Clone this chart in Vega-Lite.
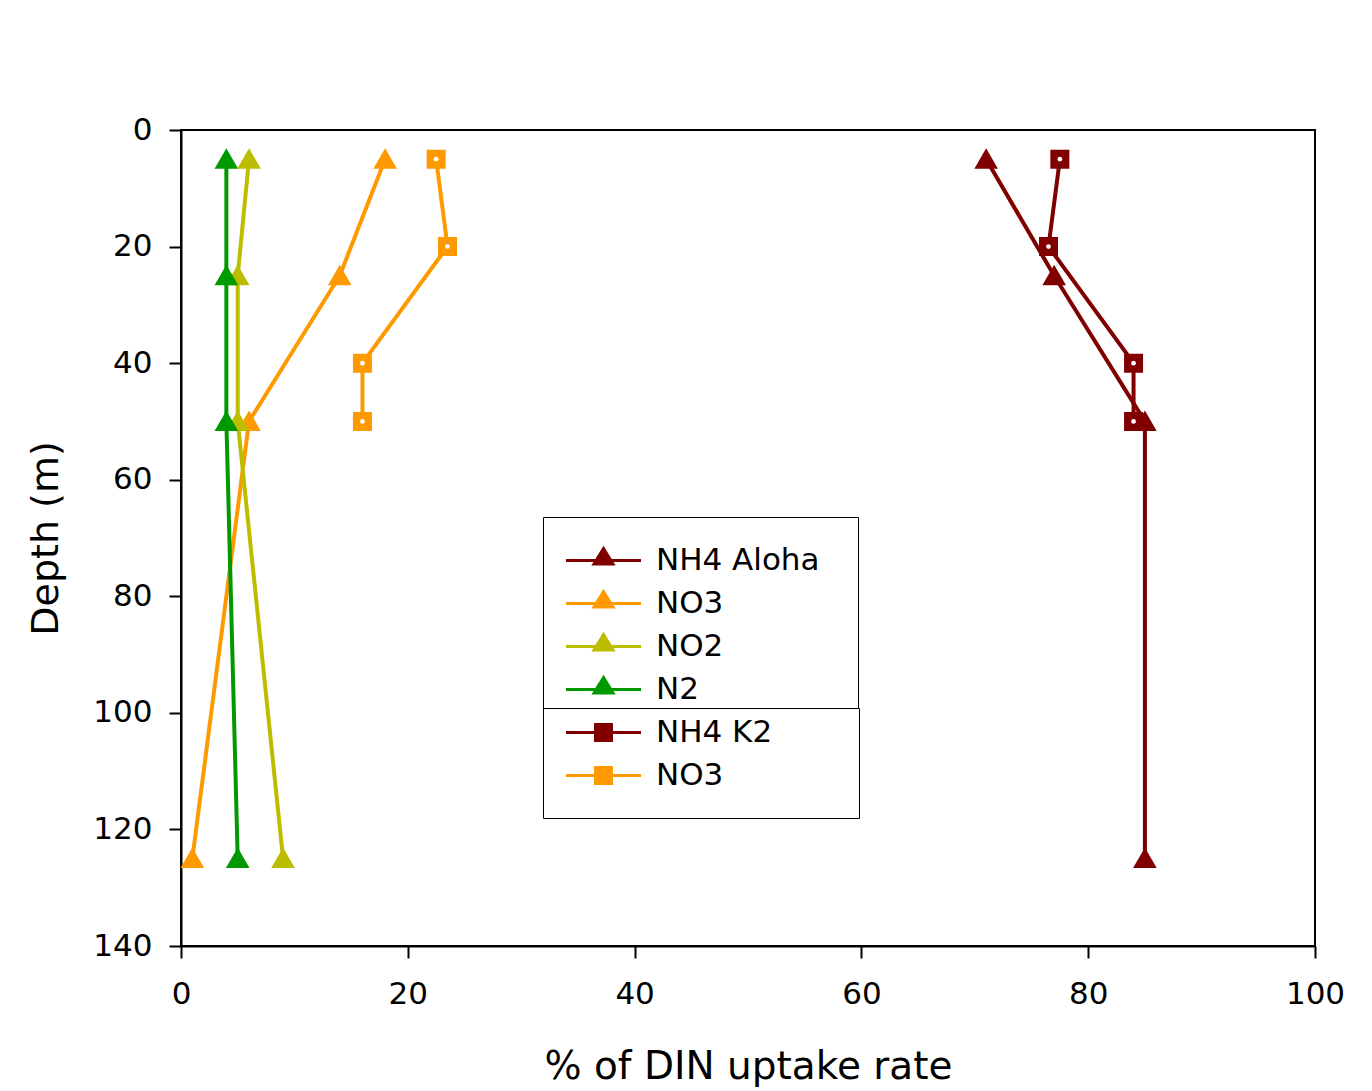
{
  "$schema": "https://vega.github.io/schema/vega-lite/v6.json",
  "width": 1134,
  "height": 816,
  "autosize": {"type": "none"},
  "padding": {"left": 181, "top": 130, "right": 57, "bottom": 145},
  "background": "white",
  "config": {
    "font": "DejaVu Sans",
    "view": {"stroke": "black", "strokeWidth": 2},
    "axis": {
      "domainColor": "black", "domainWidth": 2,
      "tickColor": "black", "tickWidth": 2, "tickSize": 12,
      "labelFontSize": 31, "labelColor": "black", "labelFlush": false,
      "titleFontSize": 38, "titleColor": "black", "titleFontWeight": "normal",
      "grid": false
    },
    "legend": {
      "labelFontSize": 31, "labelColor": "black", "labelLimit": 600,
      "strokeColor": "black", "fillColor": "white",
      "symbolSize": 900, "symbolStrokeWidth": 3,
      "labelOffset": 36,
      "titleFontSize": 10
    }
  },
  "data": {
    "values": [
      {"grp": "A", "series": "NH4 Aloha", "pct": 71, "depth": 5},
      {"grp": "A", "series": "NH4 Aloha", "pct": 77, "depth": 25},
      {"grp": "A", "series": "NH4 Aloha", "pct": 85, "depth": 50},
      {"grp": "A", "series": "NH4 Aloha", "pct": 85, "depth": 125},
      {"grp": "A", "series": "NO3", "pct": 18, "depth": 5},
      {"grp": "A", "series": "NO3", "pct": 14, "depth": 25},
      {"grp": "A", "series": "NO3", "pct": 6, "depth": 50},
      {"grp": "A", "series": "NO3", "pct": 1, "depth": 125},
      {"grp": "A", "series": "NO2", "pct": 6, "depth": 5},
      {"grp": "A", "series": "NO2", "pct": 5, "depth": 25},
      {"grp": "A", "series": "NO2", "pct": 5, "depth": 50},
      {"grp": "A", "series": "NO2", "pct": 9, "depth": 125},
      {"grp": "A", "series": "N2", "pct": 4, "depth": 5},
      {"grp": "A", "series": "N2", "pct": 4, "depth": 25},
      {"grp": "A", "series": "N2", "pct": 4, "depth": 50},
      {"grp": "A", "series": "N2", "pct": 5, "depth": 125},
      {"grp": "B", "series": "NH4 K2", "pct": 77.5, "depth": 5},
      {"grp": "B", "series": "NH4 K2", "pct": 76.5, "depth": 20},
      {"grp": "B", "series": "NH4 K2", "pct": 84, "depth": 40},
      {"grp": "B", "series": "NH4 K2", "pct": 84, "depth": 50},
      {"grp": "B", "series": "NO3", "pct": 22.5, "depth": 5},
      {"grp": "B", "series": "NO3", "pct": 23.5, "depth": 20},
      {"grp": "B", "series": "NO3", "pct": 16, "depth": 40},
      {"grp": "B", "series": "NO3", "pct": 16, "depth": 50}
    ]
  },
  "encoding": {
    "x": {
      "field": "pct", "type": "quantitative",
      "scale": {"domain": [0, 100], "nice": false, "zero": false},
      "axis": {"values": [0, 20, 40, 60, 80, 100], "title": "% of DIN uptake rate", "labelPadding": 21, "titlePadding": 38, "titleFontSize": 39}
    },
    "y": {
      "field": "depth", "type": "quantitative",
      "scale": {"domain": [0, 140], "reverse": true, "nice": false, "zero": false},
      "axis": {"values": [0, 20, 40, 60, 80, 100, 120, 140], "title": "Depth (m)", "labelPadding": 17, "titlePadding": 27}
    }
  },
  "layer": [
    {
      "transform": [{"filter": "datum.grp == 'A'"}],
      "layer": [
        {
          "mark": {"type": "line", "strokeWidth": 4},
          "encoding": {
            "stroke": {
              "field": "series", "type": "nominal",
              "scale": {"domain": ["NH4 Aloha", "NO3", "NO2", "N2"], "range": ["#800000", "#FF9900", "#BDBD00", "#009900"]},
              "legend": {
                "title": " ", "titleOrient": "top", "titlePadding": 12,
                "orient": "none", "legendX": 362, "legendY": 387,
                "padding": 5, "symbolOffset": 39, "rowPadding": 9,
                "symbolType": "M-2.5,0H2.5M0,-0.8L0.633,0.23H-0.633Z",
                "labelExpr": "datum.label + '\u00a0\u00a0\u00a0\u200a\u200b'"
              }
            },
            "order": {"field": "depth", "type": "quantitative"}
          }
        },
        {
          "mark": {"type": "point", "shape": "triangle-up", "filled": true, "size": 340, "strokeWidth": 3, "opacity": 1},
          "encoding": {
            "fill": {
              "field": "series", "type": "nominal",
              "scale": {"domain": ["NH4 Aloha", "NO3", "NO2", "N2"], "range": ["#800000", "#FF9900", "#BDBD00", "#009900"]},
              "legend": {
                "title": " ", "titleOrient": "top", "titlePadding": 12,
                "orient": "none", "legendX": 362, "legendY": 387,
                "padding": 5, "symbolOffset": 39, "rowPadding": 9,
                "symbolType": "M-2.5,0H2.5M0,-0.8L0.633,0.23H-0.633Z",
                "labelExpr": "datum.label + '\u00a0\u00a0\u00a0\u200a\u200b'"
              }
            },
            "stroke": {
              "field": "series", "type": "nominal",
              "scale": {"domain": ["NH4 Aloha", "NO3", "NO2", "N2"], "range": ["#800000", "#FF9900", "#BDBD00", "#009900"]},
              "legend": {
                "title": " ", "titleOrient": "top", "titlePadding": 12,
                "orient": "none", "legendX": 362, "legendY": 387,
                "padding": 5, "symbolOffset": 39, "rowPadding": 9,
                "symbolType": "M-2.5,0H2.5M0,-0.8L0.633,0.23H-0.633Z",
                "labelExpr": "datum.label + '\u00a0\u00a0\u00a0\u200a\u200b'"
              }
            }
          }
        }
      ]
    },
    {
      "transform": [{"filter": "datum.grp == 'B'"}],
      "layer": [
        {
          "mark": {"type": "line", "strokeWidth": 4},
          "encoding": {
            "stroke": {
              "field": "series", "type": "nominal",
              "scale": {"domain": ["NH4 K2", "NO3"], "range": ["#800000", "#FF9900"]},
              "legend": {
                "title": " ", "titleOrient": "bottom", "titlePadding": 9,
                "orient": "none", "legendX": 362, "legendY": 578,
                "padding": 8, "symbolOffset": 36, "rowPadding": 11,
                "symbolType": "M-2.5,0H-0.533M0.533,0H2.5M-0.533,-0.533H0.533V0.533H-0.533Z",
                "labelExpr": "datum.label + '\u00a0\u00a0\u00a0\u00a0\u00a0\u00a0\u00a0\u00a0\u200b'"
              }
            },
            "order": {"field": "depth", "type": "quantitative"}
          }
        },
        {
          "mark": {"type": "point", "shape": "square", "filled": true, "size": 256, "strokeWidth": 3, "opacity": 1},
          "encoding": {
            "fill": {
              "field": "series", "type": "nominal",
              "scale": {"domain": ["NH4 K2", "NO3"], "range": ["#800000", "#FF9900"]},
              "legend": {
                "title": " ", "titleOrient": "bottom", "titlePadding": 9,
                "orient": "none", "legendX": 362, "legendY": 578,
                "padding": 8, "symbolOffset": 36, "rowPadding": 11,
                "symbolType": "M-2.5,0H-0.533M0.533,0H2.5M-0.533,-0.533H0.533V0.533H-0.533Z",
                "labelExpr": "datum.label + '\u00a0\u00a0\u00a0\u00a0\u00a0\u00a0\u00a0\u00a0\u200b'"
              }
            },
            "stroke": {
              "field": "series", "type": "nominal",
              "scale": {"domain": ["NH4 K2", "NO3"], "range": ["#800000", "#FF9900"]},
              "legend": {
                "title": " ", "titleOrient": "bottom", "titlePadding": 9,
                "orient": "none", "legendX": 362, "legendY": 578,
                "padding": 8, "symbolOffset": 36, "rowPadding": 11,
                "symbolType": "M-2.5,0H-0.533M0.533,0H2.5M-0.533,-0.533H0.533V0.533H-0.533Z",
                "labelExpr": "datum.label + '\u00a0\u00a0\u00a0\u00a0\u00a0\u00a0\u00a0\u00a0\u200b'"
              }
            }
          }
        },
        {
          "mark": {"type": "point", "shape": "circle", "filled": true, "size": 22, "color": "white", "opacity": 1}
        }
      ]
    }
  ],
  "resolve": {"scale": {"fill": "independent", "stroke": "independent"}}
}
